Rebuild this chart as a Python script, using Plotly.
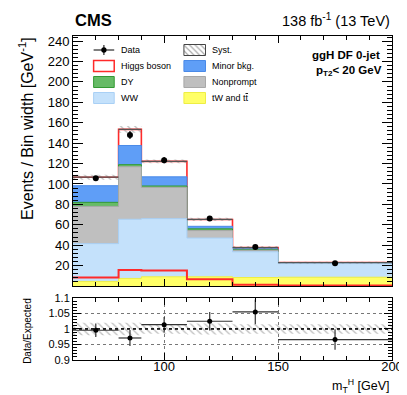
import plotly.graph_objects as go
from plotly.subplots import make_subplots
import numpy as np

# binning and stacked backgrounds (events / bin width)
bin_edges = [60, 80, 90, 110, 130, 150, 200]
tw_tt = [4.5, 7.4, 9.0, 9.0, 8.3, 8.6]
ww = [37.0, 58.0, 57.0, 38.0, 25.2, 13.4]
nonprompt = [36.5, 51.5, 30.7, 7.3, 1.5, 0.2]
dy = [4.0, 2.0, 1.3, 1.7, 0.5, 0.1]
minor_bkg = [16.3, 18.8, 9.0, 2.5, 1.0, 0.2]
higgs = [8.3, 15.8, 15.1, 6.7, 1.2, 0.4]
syst_abs = [2.4, 3.3, 1.8, 1.6, 1.5, 0.8]

data = [105.5, 148.0, 123.3, 66.2, 38.3, 22.2]
data_err = [2.3, 4.0, 3.0, 2.0, 1.5, 0.75]

ratio = [0.996, 0.971, 1.014, 1.025, 1.055, 0.966]
ratio_err = [0.022, 0.026, 0.025, 0.030, 0.040, 0.033]
ratio_syst = [0.020, 0.020, 0.015, 0.018, 0.015, 0.015]

edges = np.array(bin_edges, dtype=float)
centers = 0.5 * (edges[:-1] + edges[1:])
half_w = 0.5 * (edges[1:] - edges[:-1])

FONT = "Liberation Sans, Arial, sans-serif"
C_TT, C_WW, C_NP = "#ffff66", "#c4e1fb", "#bfbfbf"
C_DY, C_MIN, C_H = "#66bb66", "#5f9ef7", "#ff2a2a"

# pixel helpers (plot area: x 65..390, y 28..352; main 28..278)
def px_x(px):
    return (px - 65) / 325

def px_y(py):
    return (352 - py) / 324

def dx(px):
    return 60 + (px - 65) / 325 * 140

def dy_(py):
    return (278 - py) / 250 * 245


def step(vals):
    return list(edges), list(vals) + [vals[-1]]


def boxes(lo, hi):
    xs, ys = [], []
    for i in range(len(lo)):
        xs += [edges[i], edges[i + 1], edges[i + 1], edges[i], edges[i], None]
        ys += [lo[i], lo[i], hi[i], hi[i], lo[i], None]
    return xs, ys


fig = make_subplots(rows=2, cols=1, shared_xaxes=False)

# cumulative stack, drawn from top down like ROOT
c_tt = np.array(tw_tt)
c_ww = c_tt + ww
c_np = c_ww + nonprompt
c_dy = c_np + dy
c_min = c_dy + minor_bkg
c_h = c_min + higgs
total = c_h

layers = [
    (c_h, "white", C_H, 1.6),
    (c_min, C_MIN, "#4a8ae8", 1.0),
    (c_dy, C_DY, "#339933", 1.0),
    (c_np, C_NP, "#a8a8a8", 1.0),
    (c_ww, C_WW, "#a9d0f5", 1.0),
    (c_tt, C_TT, "#eeee44", 1.0),
]
for cum, fc, lc, lw in layers:
    x, y = step(cum)
    fig.add_trace(go.Scatter(x=x, y=y, mode="lines", line=dict(shape="hv", color=lc, width=lw),
                             fill="tozeroy", fillcolor=fc, hoverinfo="skip", showlegend=False),
                  row=1, col=1)

# Higgs signal alone
x, y = step(higgs)
fig.add_trace(go.Scatter(x=x, y=y, mode="lines", line=dict(shape="hv", color=C_H, width=2),
                         hoverinfo="skip", showlegend=False), row=1, col=1)

# syst band
hatch = dict(shape="\\", fgcolor="#777777", bgcolor="rgba(0,0,0,0)", size=5, solidity=0.25)
bx, by = boxes(total - syst_abs, total + syst_abs)
fig.add_trace(go.Scatter(x=bx, y=by, mode="lines", line=dict(width=0), fill="toself",
                         fillcolor="rgba(0,0,0,0)", fillpattern=hatch, hoverinfo="skip",
                         showlegend=False), row=1, col=1)

# total line
tx, ty = [], []
for i in range(len(total)):
    tx += [edges[i], edges[i + 1], None]
    ty += [total[i], total[i], None]
fig.add_trace(go.Scatter(x=tx, y=ty, mode="lines", line=dict(color="#555555", width=1.2),
                         hoverinfo="skip", showlegend=False), row=1, col=1)

# data
fig.add_trace(go.Scatter(x=centers, y=data, mode="markers",
                         marker=dict(color="black", size=6),
                         error_y=dict(type="data", array=data_err, color="black", thickness=1.2, width=0),
                         showlegend=False), row=1, col=1)

# ratio panel
rb = np.array(ratio_syst)
bx, by = boxes(1 - rb, 1 + rb)
fig.add_trace(go.Scatter(x=bx, y=by, mode="lines", line=dict(width=0), fill="toself",
                         fillcolor="rgba(0,0,0,0)", fillpattern=hatch, hoverinfo="skip",
                         showlegend=False), row=2, col=1)
fig.add_trace(go.Scatter(x=centers, y=ratio, mode="markers",
                         marker=dict(color="black", size=5),
                         error_x=dict(type="data", array=half_w, color="#333333", thickness=1.2, width=0),
                         error_y=dict(type="data", array=ratio_err, color="#333333", thickness=1.2, width=0),
                         showlegend=False), row=2, col=1)
fig.add_shape(type="line", xref="x2", yref="y2", x0=60, x1=200, y0=1, y1=1,
              line=dict(color="black", width=1.5, dash="dot"))

# legend symbols (manual, ROOT style)
rows_y = [42, 58, 74, 90]
col1 = (86, 107, 112)
col2 = (178, 200, 205)
entries = [
    (col1, rows_y[0], "Data", None),
    (col1, rows_y[1], "Higgs boson", ("white", C_H)),
    (col1, rows_y[2], "DY", (C_DY, "#339933")),
    (col1, rows_y[3], "WW", (C_WW, "#a9d0f5")),
    (col2, rows_y[0], "Syst.", "hatch"),
    (col2, rows_y[1], "Minor bkg.", (C_MIN, "#4a8ae8")),
    (col2, rows_y[2], "Nonprompt", (C_NP, "#a8a8a8")),
    (col2, rows_y[3], "tW and t<span style='text-decoration:overline'>t</span>", (C_TT, "#eeee44")),
]
for (x0, x1, xt), yc, label, sty in entries:
    if sty is None:
        fig.add_shape(type="line", xref="paper", yref="paper", x0=px_x(x0), x1=px_x(x1),
                      y0=px_y(yc), y1=px_y(yc), line=dict(color="black", width=1))
        xm = 0.5 * (x0 + x1)
        fig.add_shape(type="line", xref="paper", yref="paper", x0=px_x(xm), x1=px_x(xm),
                      y0=px_y(yc - 5), y1=px_y(yc + 5), line=dict(color="black", width=1))
        fig.add_shape(type="circle", xref="paper", yref="paper", x0=px_x(xm - 2.7), x1=px_x(xm + 2.7),
                      y0=px_y(yc - 2.7), y1=px_y(yc + 2.7), fillcolor="black", line=dict(width=0))
    elif sty == "hatch":
        sx = [dx(x0), dx(x1), dx(x1), dx(x0), dx(x0)]
        sy = [dy_(yc - 5.5), dy_(yc - 5.5), dy_(yc + 5.5), dy_(yc + 5.5), dy_(yc - 5.5)]
        fig.add_trace(go.Scatter(x=sx, y=sy, mode="lines", line=dict(color="#444444", width=1),
                                 fill="toself", fillcolor="rgba(0,0,0,0)",
                                 fillpattern=dict(shape="\\", fgcolor="#555555", bgcolor="rgba(0,0,0,0)",
                                                  size=4, solidity=0.3),
                                 hoverinfo="skip", showlegend=False), row=1, col=1)
    else:
        fc, lc = sty
        fig.add_shape(type="rect", xref="paper", yref="paper", x0=px_x(x0), x1=px_x(x1),
                      y0=px_y(yc + 5.5), y1=px_y(yc - 5.5), fillcolor=fc,
                      line=dict(color=lc, width=1.5 if fc == "white" else 1))
    fig.add_annotation(text=label, xref="paper", yref="paper", x=px_x(xt), y=px_y(yc),
                       xanchor="left", yanchor="middle", showarrow=False,
                       font=dict(family=FONT, size=9, color="black"))

# texts
fig.add_annotation(text="<b>CMS</b>", xref="paper", yref="paper", x=0, y=px_y(12),
                   xanchor="left", yanchor="middle", showarrow=False,
                   font=dict(family=FONT, size=16.5, color="black"))
fig.add_annotation(text="138 fb<sup>-1</sup> (13 TeV)", xref="paper", yref="paper", x=1, y=px_y(12),
                   xanchor="right", yanchor="middle", showarrow=False,
                   font=dict(family=FONT, size=14.5, color="black"))
fig.add_annotation(text="<b>ggH DF 0-jet</b>", xref="paper", yref="paper", x=px_x(380), y=px_y(47),
                   xanchor="right", yanchor="middle", showarrow=False,
                   font=dict(family=FONT, size=11.5, color="black"))
fig.add_annotation(text="<b>p<sub>T2</sub>< 20 GeV</b>", xref="paper", yref="paper", x=px_x(311), y=px_y(63),
                   xanchor="left", yanchor="middle", showarrow=False,
                   font=dict(family=FONT, size=11.5, color="black"))
fig.add_annotation(text="Events / Bin width [GeV<sup>-1</sup>]", xref="paper", yref="paper",
                   x=px_x(17), y=px_y(28), xanchor="center", yanchor="top", textangle=-90,
                   showarrow=False, font=dict(family=FONT, size=16, color="black"))
fig.add_annotation(text="Data/Expected", xref="paper", yref="paper",
                   x=px_x(18), y=px_y(323), xanchor="center", yanchor="middle", textangle=-90,
                   showarrow=False, font=dict(family=FONT, size=10, color="black"))
fig.add_annotation(text="m<sub>T</sub><sup>H</sup> [GeV]", xref="paper", yref="paper",
                   x=1, y=px_y(378), xanchor="right", yanchor="middle",
                   showarrow=False, font=dict(family=FONT, size=12.5, color="black"))

axis_common = dict(showline=True, linecolor="black", linewidth=1, mirror="allticks",
                   ticks="inside", tickcolor="black", zeroline=False,
                   tickfont=dict(family=FONT, size=13, color="black"))

fig.update_xaxes(range=[60, 200], dtick=50, tick0=0, ticklen=7,
                 minor=dict(dtick=10, ticks="inside", ticklen=4, tickcolor="black"),
                 showticklabels=False, showgrid=False, **axis_common, row=1, col=1)
fig.update_yaxes(range=[0, 245], tickvals=list(range(20, 241, 20)), ticklen=10,
                 minor=dict(dtick=4, ticks="inside", ticklen=5, tickcolor="black"),
                 showgrid=False, domain=[0.2284, 1], **axis_common, row=1, col=1)
fig.update_xaxes(range=[60, 200], dtick=50, tick0=0, ticklen=7, ticklabelstandoff=-6,
                 minor=dict(dtick=10, ticks="inside", ticklen=4, tickcolor="black"),
                 showgrid=True, gridcolor="#777777", griddash="dot", gridwidth=1,
                 **axis_common, row=2, col=1)
fig.update_yaxes(range=[0.9, 1.1], tickvals=[0.9, 0.95, 1, 1.05, 1.1],
                 ticktext=["0.9", "0.95", "1", "1.05", "1.1"], ticklen=8,
                 minor=dict(dtick=0.01, ticks="inside", ticklen=4, tickcolor="black"),
                 showgrid=True, gridcolor="#777777", griddash="dot", gridwidth=1,
                 domain=[0, 0.1914], row=2, col=1,
                 **{**axis_common, "tickfont": dict(family=FONT, size=11, color="black")})

fig.update_layout(
    width=407, height=395,
    margin=dict(l=65, r=17, t=28, b=43),
    plot_bgcolor="white", paper_bgcolor="white",
    showlegend=False,
    font=dict(family=FONT, color="black"),
)

fig.write_html("out.html")
